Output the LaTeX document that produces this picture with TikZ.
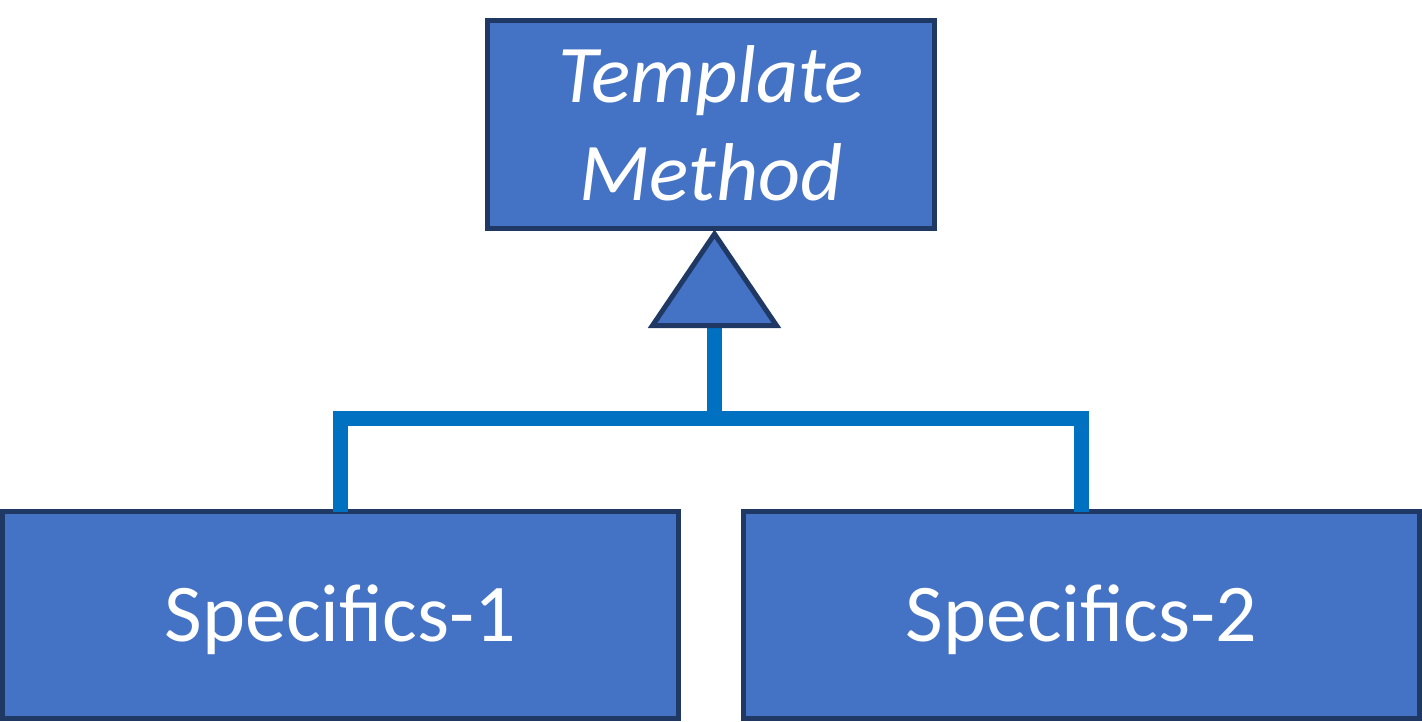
\documentclass[tikz,border=0pt]{standalone}
\usepackage{fontspec}
\setmainfont{Carlito}
\definecolor{boxfill}{HTML}{4472C4}
\definecolor{boxline}{HTML}{1F3864}
\definecolor{conn}{HTML}{0070C0}
\tikzset{
  umlbox/.style={draw=boxline, fill=boxfill, line width=5pt, outer sep=0pt,
    text=white, font=\fontsize{82}{98}\selectfont, align=center,
    text height=53pt, text depth=0pt, inner sep=0pt},
  inherit/.style={draw=conn, line width=15pt, line join=miter},
  tri/.style={draw=boxline, fill=boxfill, line width=5pt, line join=miter}
}
\begin{document}
\begin{tikzpicture}[x=1pt,y=-1pt]
\useasboundingbox (0,0) rectangle (1422,721);
\node[umlbox, minimum width=447pt, minimum height=208pt, text height=151pt,
  font=\fontsize{82}{98}\selectfont\itshape] (tm) at (711,124.5) {Template\\Method};
\node[umlbox, minimum width=676pt, minimum height=207pt] (s1) at (340.5,615) {Specifics-1};
\node[umlbox, minimum width=676pt, minimum height=207pt] (s2) at (1081.5,615) {Specifics-2};
\coordinate (apex) at (714.5,234);
\coordinate (bl) at (652.5,325.5);
\coordinate (br) at (776.5,325.5);
\coordinate (tb) at (714.5,327);
\coordinate (j) at (714.5,418.5);
\draw[inherit] (tb) -- (j);
\draw[inherit] (s1.north) |- (j) -| (s2.north);
\draw[tri] (apex) -- (br) -- (bl) -- cycle;
\end{tikzpicture}
\end{document}
